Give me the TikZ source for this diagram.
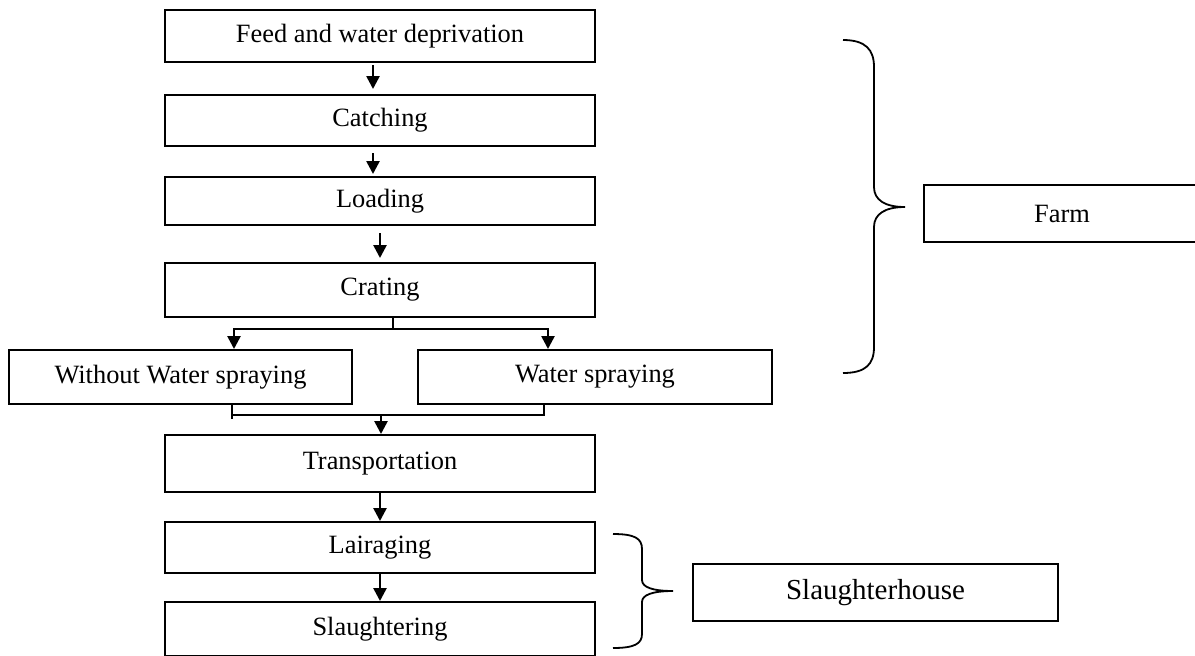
\documentclass[tikz,border=0pt]{standalone}
\usepackage{fontspec}
\setmainfont{Liberation Serif}
\usepackage{tikz}
\usetikzlibrary{arrows.meta,positioning,calc}
\tikzset{>={Triangle[width=6.5pt,length=6.5pt]}}

\begin{document}
\begin{tikzpicture}[x=0.5pt, y=-0.5pt,
  every node/.style={font=\fontsize{13.2}{15}\selectfont},
  stage/.style={draw, line width=1pt, minimum width=215pt, minimum height=26pt, inner sep=0pt},
  flow/.style={->, line width=1.3pt},
  link/.style={line width=1pt},
  brace/.style={line width=0.9pt}]
  \useasboundingbox (0,0) rectangle (1195,655);
  % main column
  \node[stage] (feed) at (380,36) {Feed and water deprivation};
  \node[stage, minimum height=25.5pt] (catching) at (380,120.5) {Catching};
  \node[stage, minimum height=24pt] (loading) at (380,201) {Loading};
  \node[stage, minimum height=27pt] (crating) at (380,290) {Crating};
  \node[stage, minimum width=171.5pt, minimum height=27pt] (without) at (180.5,377) {Without Water spraying};
  \node[stage, minimum width=177pt, minimum height=27pt] (water) at (595,377) {Water spraying};
  \node[stage, minimum height=28.5pt] (transport) at (380,463.5) {Transportation};
  \node[stage, minimum height=25.5pt] (lairaging) at (380,547.5) {Lairaging};
  \node[stage, minimum height=27pt] (slaughtering) at (380,629) {Slaughtering};
  % places
  \node[stage, minimum width=138pt, minimum height=28.5pt] (farm) at (1062,213.5) {Farm};
  \node[stage, minimum width=182.5pt, minimum height=28.5pt, font=\fontsize{14.5}{17}\selectfont] (slhouse) at (875.5,592.5) {Slaughterhouse};

  % arrows
  \draw[flow, shorten <=1pt, shorten >=2.5pt] ([xshift=-3.5pt]feed.south) -- ([xshift=-3.5pt]catching.north);
  \draw[flow, shorten <=3pt, shorten >=1pt] ([xshift=-3.5pt]catching.south) -- ([xshift=-3.5pt]loading.north);
  \draw[flow, shorten <=3.5pt, shorten >=2pt] (loading.south) -- (crating.north);
  \draw[flow] (transport.south) -- (lairaging.north);
  \draw[flow] (lairaging.south) -- (slaughtering.north);

  % split after crating
  \coordinate (split) at (393,329);
  \coordinate (splitL) at (234,329);
  \coordinate (splitR) at (548,329);
  \draw[link] (crating.south -| split) -- (split);
  \draw[flow] (split) -| (without.north -| splitL);
  \draw[flow] (split) -| (water.north -| splitR);

  % merge before transportation
  \coordinate (merge) at (381,415);
  \coordinate (mergeL) at (232,415);
  \coordinate (mergeR) at (544,415);
  \draw[link] (without.south -| mergeL) -- ++(0,14);
  \draw[link] (water.south -| mergeR) -- (mergeR) -- (mergeL);
  \draw[flow] (merge) -- (transport.north -| merge);

  % braces
  \draw[brace] (843,40) .. controls (866,40) and (874,50) .. (874,67) -- (874,187)
    .. controls (874,200) and (885,207) .. (905,207)
    .. controls (885,207) and (874,214) .. (874,227) -- (874,347)
    .. controls (874,364) and (866,373) .. (843,373);
  \draw[brace] (613,534) .. controls (634,534) and (642,538) .. (642,549) -- (642,580)
    .. controls (642,587) and (652,591) .. (673,591)
    .. controls (652,591) and (642,595) .. (642,602) -- (642,634)
    .. controls (642,644) and (634,648) .. (613,648);
\end{tikzpicture}
\end{document}
